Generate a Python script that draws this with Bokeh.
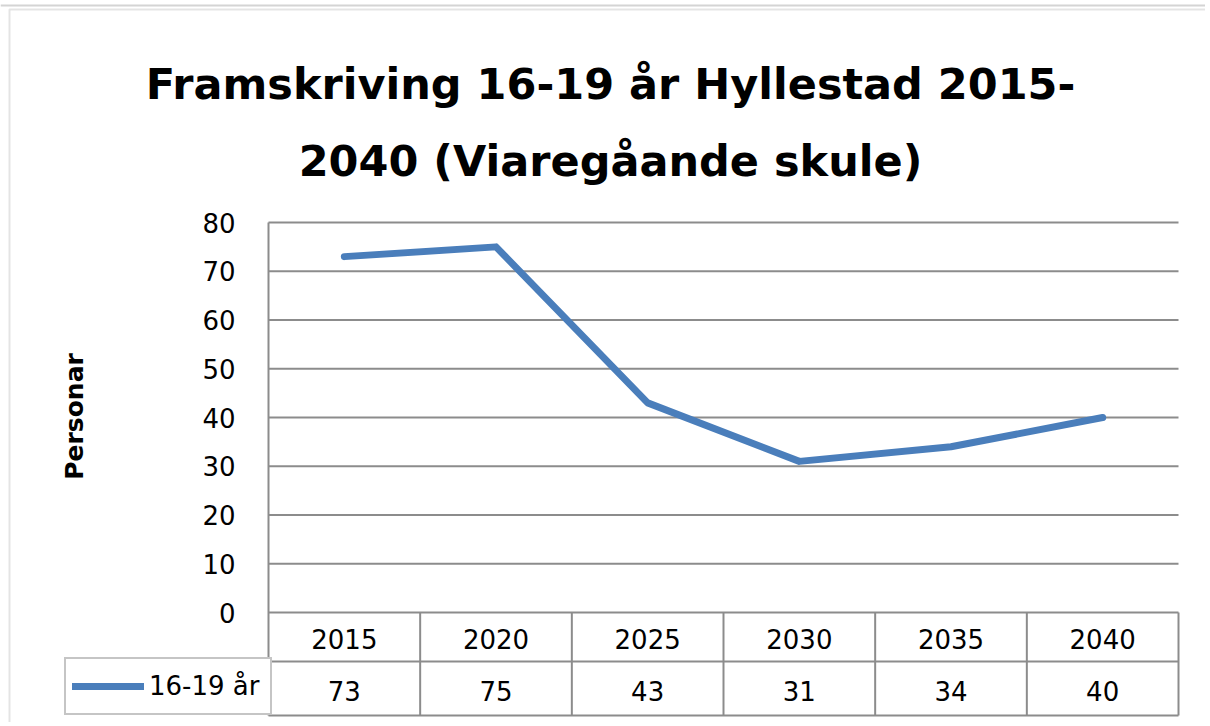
from math import pi
from bokeh.plotting import figure
from bokeh.models import (Range1d, FixedTicker, Legend, LegendItem, Label,
                          BoxAnnotation, Span)
from bokeh.core.properties import value
from bokeh.embed import file_html
from bokeh.resources import INLINE

# ---------------- data ----------------
years = ["2015", "2020", "2025", "2030", "2035", "2040"]
persons = [73, 75, 43, 31, 34, 40]
series_name = "16-19 år"
y_ticks = [0, 10, 20, 30, 40, 50, 60, 70, 80]
title_lines = ["Framskriving 16-19 år Hyllestad 2015-", "2040 (Viaregåande skule)"]
y_label = "Personar"

# ---------------- layout (canvas pixels) ----------------
W, H = 1205, 722
P_LEFT, P_RIGHT = 268, 1178      # plot area / table columns
Y_ZERO, Y_TOP = 612, 222         # pixel rows of value 0 and of the top tick
Y_MAX = y_ticks[-1]
n = len(years)
COL_PX = (P_RIGHT - P_LEFT) / n
PX_PER_UNIT = (Y_ZERO - Y_TOP) / Y_MAX


def xval(px):
    return (px - P_LEFT) / COL_PX


def yval(py):
    return (Y_ZERO - py) / PX_PER_UNIT


def sy(py):
    return H - py


row_div = yval(661)
table_bot = yval(715)
hdr_y = yval(638)
val_y = yval(690)

GRID = "#8c8c8c"
BLUE = "#4A7EBB"
FONT = "DejaVu Sans"

p = figure(width=W, height=H, title=None,
           x_range=Range1d(xval(0), xval(W)),
           y_range=Range1d(yval(H), yval(0)),
           x_axis_type=None,
           output_backend="svg", toolbar_location=None,
           min_border_left=0, min_border_right=0,
           min_border_top=0, min_border_bottom=0)
p.outline_line_color = None
p.background_fill_color = "white"
p.border_fill_color = "white"

# y axis placed at the left edge of the plot area
p.yaxis.fixed_location = 0
p.yaxis.bounds = (table_bot, Y_MAX)
p.yaxis.ticker = FixedTicker(ticks=y_ticks)
p.yaxis.axis_line_color = GRID
p.yaxis.axis_line_width = 2
p.yaxis.major_tick_line_color = None
p.yaxis.minor_tick_line_color = None
p.yaxis.major_label_standoff = 27
p.yaxis.major_label_text_font = FONT
p.yaxis.major_label_text_font_size = "26px"
p.yaxis.major_label_text_color = "black"
p.ygrid.visible = False

# horizontal grid lines at the tick values
p.segment(x0=[0] * len(y_ticks), x1=[n] * len(y_ticks), y0=y_ticks, y1=y_ticks,
          line_color=GRID, line_width=2)

# data line (categories placed at column centres)
xs = [i + 0.5 for i in range(n)]
r = p.line(x=xs, y=persons, line_width=7, line_color=BLUE,
           line_join="round", line_cap="round")

# data table grid
bounds = [float(i) for i in range(1, n + 1)]
p.segment(x0=bounds, y0=[0] * n, x1=bounds, y1=[table_bot] * n,
          line_color=GRID, line_width=2)
p.segment(x0=[0, 0], y0=[row_div, table_bot], x1=[n, n], y1=[row_div, table_bot],
          line_color=GRID, line_width=2)

# data table texts
p.text(x=xs, y=[hdr_y] * n, text=years, text_font=value(FONT),
       text_font_size=value("26px"), text_align="center", text_baseline="middle",
       text_color="black")
p.text(x=xs, y=[val_y] * n, text=[str(v) for v in persons], text_font=value(FONT),
       text_font_size=value("26px"), text_align="center", text_baseline="middle",
       text_color="black")

# legend cell of the data table
legend = Legend(items=[LegendItem(label=series_name, renderers=[r])],
                location=(64, H - 715),
                padding=6, spacing=0, margin=0,
                glyph_width=72, glyph_height=42, label_standoff=5,
                label_width=115, label_height=42,
                border_line_color=GRID, border_line_width=2,
                background_fill_color="white", background_fill_alpha=1,
                label_text_font=FONT, label_text_font_size="26px",
                label_text_color="black")
p.add_layout(legend)

# title
for txt, base in zip(title_lines, [83, 160]):
    p.add_layout(Label(x=610, y=sy(base), x_units="screen", y_units="screen",
                       text=txt, text_align="center", text_baseline="alphabetic",
                       text_font=FONT, text_font_style="bold", text_font_size="43px",
                       text_color="black"))

# y axis title
p.add_layout(Label(x=74, y=sy(416), x_units="screen", y_units="screen",
                   text=y_label, angle=pi / 2, text_align="center",
                   text_baseline="middle", text_font=FONT, text_font_style="bold",
                   text_font_size="25px", text_color="black"))

# outer chart border and spreadsheet line above it
p.add_layout(BoxAnnotation(left=9, right=W + 3000, top=sy(9), bottom=-3000,
                           left_units="screen", right_units="screen",
                           top_units="screen", bottom_units="screen",
                           fill_alpha=0, line_color="#a6a6a6", line_width=2))
p.add_layout(Span(location=yval(5), dimension="width", line_color="#d4d4d4",
                  line_width=2))

open("out.html", "w").write(file_html(p, INLINE))
